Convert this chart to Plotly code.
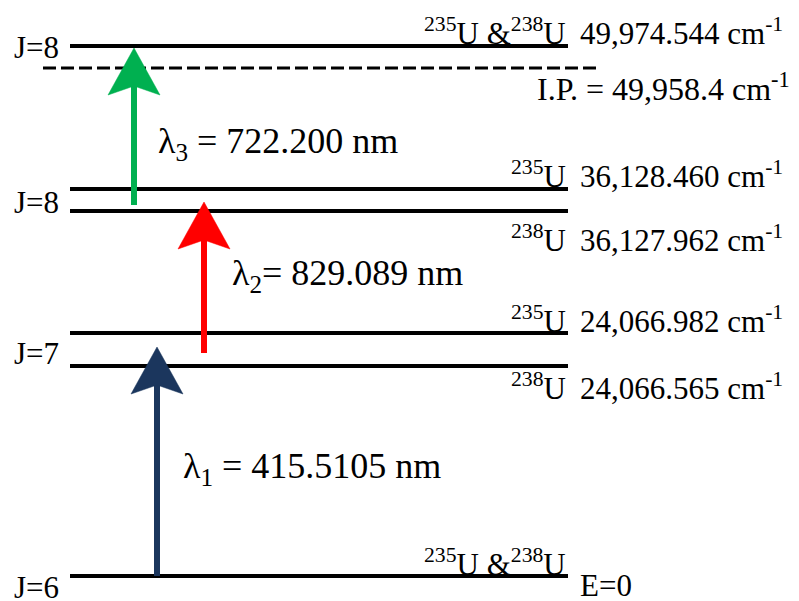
import plotly.graph_objects as go

# ---------------- data (schematic level positions) ----------------
level_pos = [0, 210, 243, 365, 387, 530]          # display height of each level
level_x0, level_x1 = 70, 568
ip_pos = 508
ip_x0, ip_x1 = 43, 597

# J labels
j_labels = ["J=6", "J=7", "J=8", "J=8"]
j_label_pos = [-11, 223, 374, 529]

# isotope labels and energies on the right side
iso_labels = ["<sup>235</sup>U &<sup>238</sup>U", "<sup>238</sup>U", "<sup>235</sup>U",
              "<sup>238</sup>U", "<sup>235</sup>U", "<sup>235</sup>U &<sup>238</sup>U"]
iso_label_pos = [14, 190, 257, 338, 402, 545]
energy_labels = ["E=0", "24,066.565 cm<sup>-1</sup>", "24,066.982 cm<sup>-1</sup>",
                 "36,127.962 cm<sup>-1</sup>", "36,128.460 cm<sup>-1</sup>",
                 "49,974.544 cm<sup>-1</sup>"]
energy_label_pos = [-9, 190, 257, 338, 402, 545]
ip_label = "I.P. = 49,958.4 cm<sup>-1</sup>"
ip_label_pos = 489

# transitions (laser steps)
arrow_x = [157, 204, 134]
arrow_start = [0, 223, 371]
arrow_end = [229, 374, 528]
arrow_colors = ["#1B365D", "#FF0000", "#00B050"]
arrow_labels = ["λ<sub>1</sub> = 415.5105 nm", "λ<sub>2</sub>= 829.089 nm",
                "λ<sub>3</sub> = 722.200 nm"]
arrow_label_x = [181, 230, 156]
arrow_label_pos = [108, 301, 433]

FONT = "Liberation Serif"
fig = go.Figure()

# levels
for y in level_pos:
    fig.add_trace(go.Scatter(x=[level_x0, level_x1], y=[y, y], mode="lines",
                             line=dict(color="black", width=4), hoverinfo="skip",
                             showlegend=False))
fig.add_trace(go.Scatter(x=[ip_x0, ip_x1], y=[ip_pos, ip_pos], mode="lines",
                         line=dict(color="black", width=3, dash="13px,5px"),
                         hoverinfo="skip", showlegend=False))

# arrows
HW, HL, NOTCH = 26, 47, 38
for x, y0, y1, c in zip(arrow_x, arrow_start, arrow_end, arrow_colors):
    fig.add_trace(go.Scatter(x=[x, x], y=[y0, y1 - NOTCH + 2], mode="lines",
                             line=dict(color=c, width=6), hoverinfo="skip",
                             showlegend=False))
    fig.add_trace(go.Scatter(x=[x, x + HW, x, x - HW, x],
                             y=[y1, y1 - HL, y1 - NOTCH, y1 - HL, y1],
                             mode="lines", fill="toself", fillcolor=c,
                             line=dict(color=c, width=0.5), hoverinfo="skip",
                             showlegend=False))

ann = []
for t, y in zip(j_labels, j_label_pos):
    ann.append(dict(x=12, y=y, text=t, xanchor="left", yanchor="middle"))
for t, y in zip(iso_labels, iso_label_pos):
    ann.append(dict(x=568, y=y, text=t, xanchor="right", yanchor="middle"))
for t, y in zip(energy_labels, energy_label_pos):
    ann.append(dict(x=578, y=y, text=t, xanchor="left", yanchor="middle"))
ann.append(dict(x=792, y=ip_label_pos, text=ip_label, xanchor="right", yanchor="middle",
                font=dict(size=32)))
for t, x, y in zip(arrow_labels, arrow_label_x, arrow_label_pos):
    ann.append(dict(x=x, y=y, text=t, xanchor="left", yanchor="middle",
                    font=dict(size=36)))
for a in ann:
    a.update(xref="x", yref="y", showarrow=False)
    a.setdefault("font", dict(size=31))
    a["font"] = dict(family=FONT, color="black", **a["font"])

fig.update_layout(
    width=799, height=601, margin=dict(l=0, r=0, t=0, b=0),
    paper_bgcolor="white", plot_bgcolor="white",
    xaxis=dict(range=[0, 799], visible=False, fixedrange=True),
    yaxis=dict(range=[-25, 576], visible=False, fixedrange=True),
    annotations=ann, font=dict(family=FONT),
)
fig.write_html("out.html", config={"displayModeBar": False},
               post_script="document.body.style.margin='0px';document.body.style.overflow='hidden';")
